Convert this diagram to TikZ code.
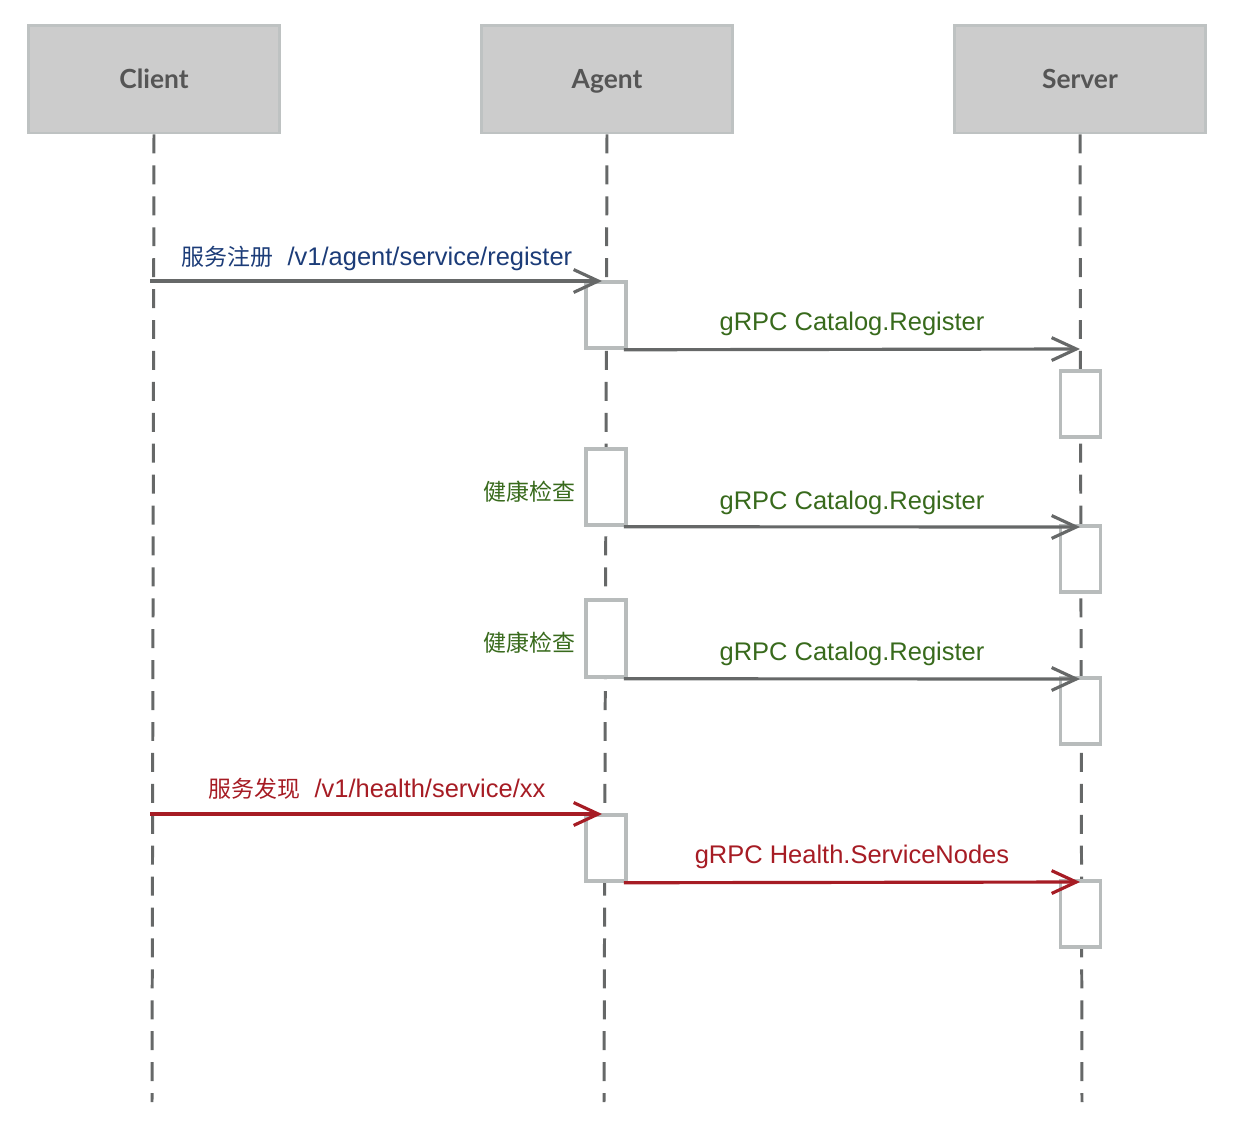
\documentclass[tikz,border=0pt]{standalone}
\usepackage{fontspec}
\setmainfont{Liberation Sans}
\newfontfamily\cjk[Scale=0.9]{Noto Sans CJK SC}
\newfontfamily\headfont{Lato}
\usetikzlibrary{arrows.meta}
\definecolor{headfill}{HTML}{CCCCCC}
\definecolor{headline}{HTML}{BEC2C2}
\definecolor{headtext}{HTML}{555555}
\definecolor{lifegray}{HTML}{666868}
\definecolor{actline}{HTML}{B8BCBC}
\definecolor{msgblue}{HTML}{1C3C78}
\definecolor{msggreen}{HTML}{386A1C}
\definecolor{msgred}{HTML}{A61C24}

\begin{document}
\begin{tikzpicture}[
  x=0.02cm, y=-0.02cm,
  actor/.style={draw=headline, fill=headfill, line width=1.7pt, minimum width=5.04cm, minimum height=2.16cm,
    font=\headfont\bfseries\fontsize{15}{17}\selectfont, text=headtext, text height=2ex, text depth=0pt},
  lifeline/.style={draw=lifegray, line width=1.7pt, dash pattern=on 10.8pt off 6.8pt},
  activation/.style={draw=actline, fill=white, line width=2pt, minimum width=0.8cm, inner sep=0pt},
  msg/.style={line width=1.8pt, -{Straight Barb[length=14pt,width=13pt,line width=1.8pt]}},
  msg label/.style={font=\fontsize{14.5}{16}\selectfont, anchor=base, inner sep=0pt}
]
\useasboundingbox (0,0) rectangle (1242,1140);

% Teilnehmer
\node[actor] (client) at (154,79) {Client};
\node[actor] (agent) at (607,79) {Agent};
\node[actor] (server) at (1080,79) {Server};

% Lebenslinien
\coordinate (client end) at (152,1102);
\coordinate (agent end) at (604,1102);
\coordinate (server end) at (1082,1102);
\draw[lifeline] (client.south) -- (client end);
\draw[lifeline] (agent.south) -- (agent end);
\draw[lifeline] (server.south) -- (server end);

% Aktivierungen
\node[activation, minimum height=1.32cm] (agent a1) at (606,315) {};
\node[activation, minimum height=1.52cm] (agent a2) at (606,487) {};
\node[activation, minimum height=1.54cm] (agent a3) at (606,638.5) {};
\node[activation, minimum height=1.32cm] (agent a4) at (606,848) {};
\node[activation, minimum height=1.32cm] (server a1) at (1080.5,404) {};
\node[activation, minimum height=1.32cm] (server a2) at (1080.5,559) {};
\node[activation, minimum height=1.32cm] (server a3) at (1080.5,711) {};
\node[activation, minimum height=1.32cm] (server a4) at (1080.5,914) {};

% Nachrichten
\coordinate (reg from) at (150,281);
\coordinate (reg to) at (602,281);
\coordinate (cat1 to) at (1080,349);
\coordinate (cat2 to) at (1080,527);
\coordinate (cat3 to) at (1080,679);
\coordinate (disc from) at (150,814);
\coordinate (disc to) at (602,814);
\coordinate (nodes to) at (1080,882);

\draw[msg, lifegray] (reg from) -- (reg to);
\draw[msg, lifegray] ([xshift=-0.08cm]agent a1.south east) -- (cat1 to);
\draw[msg, lifegray] ([xshift=-0.08cm]agent a2.south east) -- (cat2 to);
\draw[msg, lifegray] ([xshift=-0.08cm]agent a3.south east) -- (cat3 to);
\draw[msg, msgred] (disc from) -- (disc to);
\draw[msg, msgred] ([xshift=-0.08cm]agent a4.south east) -- (nodes to);

% Beschriftungen
\node[msg label, text=msgblue] (reg label) at (377,265) {{\cjk 服务注册}\ \ /v1/agent/service/register};
\node[msg label, text=msggreen] (cat1 label) at (852,330) {gRPC Catalog.Register};
\node[msg label, text=msggreen] (cat2 label) at (852,509) {gRPC Catalog.Register};
\node[msg label, text=msggreen] (cat3 label) at (852,660) {gRPC Catalog.Register};
\node[msg label, text=msgred] (disc label) at (377,797) {{\cjk 服务发现}\ \ /v1/health/service/xx};
\node[msg label, text=msgred] (nodes label) at (852,863) {gRPC Health.ServiceNodes};
\node[msg label, text=msggreen, anchor=base east] (check1) at (576,500) {\cjk 健康检查};
\node[msg label, text=msggreen, anchor=base east] (check2) at (576,651) {\cjk 健康检查};
\end{tikzpicture}
\end{document}
